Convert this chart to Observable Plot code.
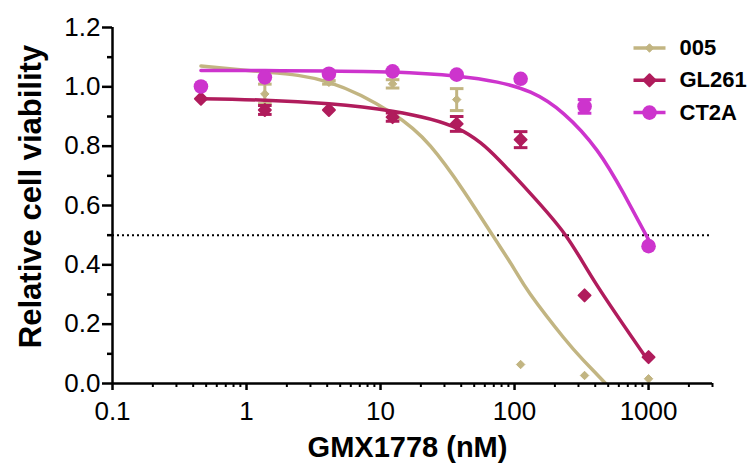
<!DOCTYPE html>
<html>
<head>
<meta charset="utf-8">
<script src="https://cdn.jsdelivr.net/npm/d3@7"></script>
<script src="https://cdn.jsdelivr.net/npm/@observablehq/plot@0.6"></script>
<style>
  html, body { margin: 0; padding: 0; background: #fff; }
  #chart { width: 754px; height: 468px; }
</style>
</head>
<body>
<div id="chart"></div>
<script>
// ---- Data ----
const seriesNames = ["005", "GL261", "CT2A"];
const seriesColors = ["#c2b582", "#b01c5c", "#cd34cd"];

const conc = [0.457, 1.37, 4.12, 12.3, 37.0, 111, 333, 1000];

const mean005 = [1.00, 0.976, 1.015, 1.01, 0.957, 0.064, 0.027, 0.016];
const err005  = [0.0, 0.033, 0.006, 0.014, 0.037, 0, 0, 0];
const meanGL  = [0.96, 0.922, 0.922, 0.898, 0.875, 0.822, 0.297, 0.089];
const errGL   = [0, 0.015, 0, 0.014, 0.025, 0.027, 0, 0];
const meanCT  = [1.001, 1.032, 1.044, 1.052, 1.041, 1.027, 0.934, 0.463];
const errCT   = [0, 0, 0, 0, 0, 0, 0.023, 0];

// fitted curves, points
const fit005X = [0.457, 1.37, 4.12, 12.3, 23.6, 41.6, 68.5, 98.3, 131.6, 232, 327, 478, 600];
const fit005Y = [1.07, 1.05, 1.015, 0.91, 0.80, 0.65, 0.50, 0.39, 0.30, 0.155, 0.078, 0.0, -0.045];
const fitGLX  = [0.457, 1.37, 4.12, 12.3, 37.4, 76, 131.6, 240, 414, 1000];
const fitGLY  = [0.96, 0.955, 0.943, 0.918, 0.86, 0.755, 0.64, 0.50, 0.33, 0.075];
const fitCTX  = [0.457, 1.37, 4.12, 12.3, 37.4, 74.3, 131.6, 233, 414, 654, 1000];
const fitCTY  = [1.055, 1.055, 1.053, 1.05, 1.036, 1.016, 0.982, 0.909, 0.785, 0.639, 0.485];

const xMajor = [0.1, 1, 10, 100, 1000];
const xMinor = [0.2,0.3,0.4,0.5,0.6,0.7,0.8,0.9, 2,3,4,5,6,7,8,9, 20,30,40,50,60,70,80,90, 200,300,400,500,600,700,800,900, 2000,3000];
const yMajor = [0, 0.2, 0.4, 0.6, 0.8, 1.0, 1.2];
const yMinor = [0.1, 0.3, 0.5, 0.7, 0.9, 1.1];
const threshold = 0.5;

const xTitle = "GMX1778 (nM)";
const yTitle = "Relative cell viability";

// ---- Build tables ----
const means = [mean005, meanGL, meanCT];
const errs = [err005, errGL, errCT];
const fitsX = [fit005X, fitGLX, fitCTX];
const fitsY = [fit005Y, fitGLY, fitCTY];

const points = [];
seriesNames.forEach((s, i) => conc.forEach((c, j) => points.push({series: s, x: c, y: means[i][j], e: errs[i][j]})));
const curves = [];
seriesNames.forEach((s, i) => fitsX[i].forEach((c, j) => curves.push({series: s, x: c, y: fitsY[i][j]})));

const hLine = {draw(ctx, size) { const w = Math.sqrt(size / Math.PI); ctx.moveTo(-w, 0); ctx.lineTo(w, 0); }};

const markerOpts = {
  "005":   {symbol: "diamond2", r: 3.8, strokeWidth: 1},
  "GL261": {symbol: "diamond2", r: 5.4, strokeWidth: 2},
  "CT2A":  {symbol: "circle", r: 7.3, strokeWidth: 0}
};

const font = "'Liberation Sans', Arial, Helvetica, sans-serif";
const marks = [];

// threshold line
marks.push(Plot.ruleY([threshold], {stroke: "black", strokeWidth: 2, strokeDasharray: "2,3"}));

seriesNames.forEach((s, i) => {
  const col = seriesColors[i];
  const cd = curves.filter(d => d.series === s);
  const pd = points.filter(d => d.series === s);
  const ed = pd.filter(d => d.e > 0);
  marks.push(Plot.line(cd, {x: "x", y: "y", stroke: col, strokeWidth: 3.5, curve: "natural", clip: true}));
  marks.push(Plot.link(ed, {x1: "x", x2: "x", y1: d => d.y - d.e, y2: d => d.y + d.e, stroke: col, strokeWidth: 3}));
  marks.push(Plot.dot(ed, {x: "x", y: d => d.y - d.e, symbol: hLine, r: 6.8, stroke: col, strokeWidth: 3}));
  marks.push(Plot.dot(ed, {x: "x", y: d => d.y + d.e, symbol: hLine, r: 6.8, stroke: col, strokeWidth: 3}));
  const mo = markerOpts[s];
  marks.push(Plot.dot(pd, {x: "x", y: "y", symbol: mo.symbol, r: mo.r, fill: col, stroke: col, strokeWidth: mo.strokeWidth, strokeLinejoin: "round"}));
});

// axes
marks.push(Plot.axisX({ticks: xMinor, tickSize: 4, tickFormat: () => "", strokeWidth: 2, label: null}));
marks.push(Plot.axisX({ticks: xMajor, tickSize: 7, tickPadding: 11, tickFormat: d => String(d), strokeWidth: 2.5, fontSize: 26, label: null}));
marks.push(Plot.axisY({ticks: yMinor, tickSize: 5, tickFormat: () => "", strokeWidth: 2.5, label: null}));
marks.push(Plot.axisY({ticks: yMajor, tickSize: 10, tickPadding: 2, tickFormat: d3.format(".1f"), strokeWidth: 2.5, fontSize: 26, label: null}));
marks.push(Plot.ruleY([0], {stroke: "black", strokeWidth: 2.5}));
marks.push(Plot.ruleX([0.1], {stroke: "black", strokeWidth: 2.5}));

// axis titles
marks.push(Plot.text([xTitle], {frameAnchor: "bottom", dx: -5, dy: 64, fontSize: 29, fontWeight: "bold", textAnchor: "middle", lineAnchor: "middle", fill: "black"}));
marks.push(Plot.text([yTitle], {frameAnchor: "left", rotate: -90, dx: -81, dy: -9, fontSize: 31, fontWeight: "bold", textAnchor: "middle", lineAnchor: "middle", fill: "black"}));

// legend
seriesNames.forEach((s, i) => {
  const col = seriesColors[i];
  const dy = 20.5 + i * 32.3;
  const mo = markerOpts[s];
  marks.push(Plot.dot([s], {frameAnchor: "top-right", dx: -63, dy, symbol: hLine, r: 16, stroke: col, strokeWidth: 3.5}));
  marks.push(Plot.dot([s], {frameAnchor: "top-right", dx: -63, dy, symbol: mo.symbol, r: mo.r, fill: col, stroke: col, strokeWidth: mo.strokeWidth, strokeLinejoin: "round"}));
  marks.push(Plot.text([s], {frameAnchor: "top-right", dx: -33, dy, text: d => d, textAnchor: "start", lineAnchor: "middle", fontSize: 22, fontWeight: "bold", fill: "black"}));
});

const chart = Plot.plot({
  width: 754,
  height: 468,
  marginLeft: 112,
  marginRight: 42,
  marginTop: 27,
  marginBottom: 85,
  style: {fontFamily: font, color: "black", background: "white", overflow: "visible"},
  x: {type: "log", domain: [0.1, 3000], axis: null},
  y: {domain: [0, 1.2], axis: null},
  marks
});
document.getElementById("chart").appendChild(chart);
</script>
</body>
</html>
